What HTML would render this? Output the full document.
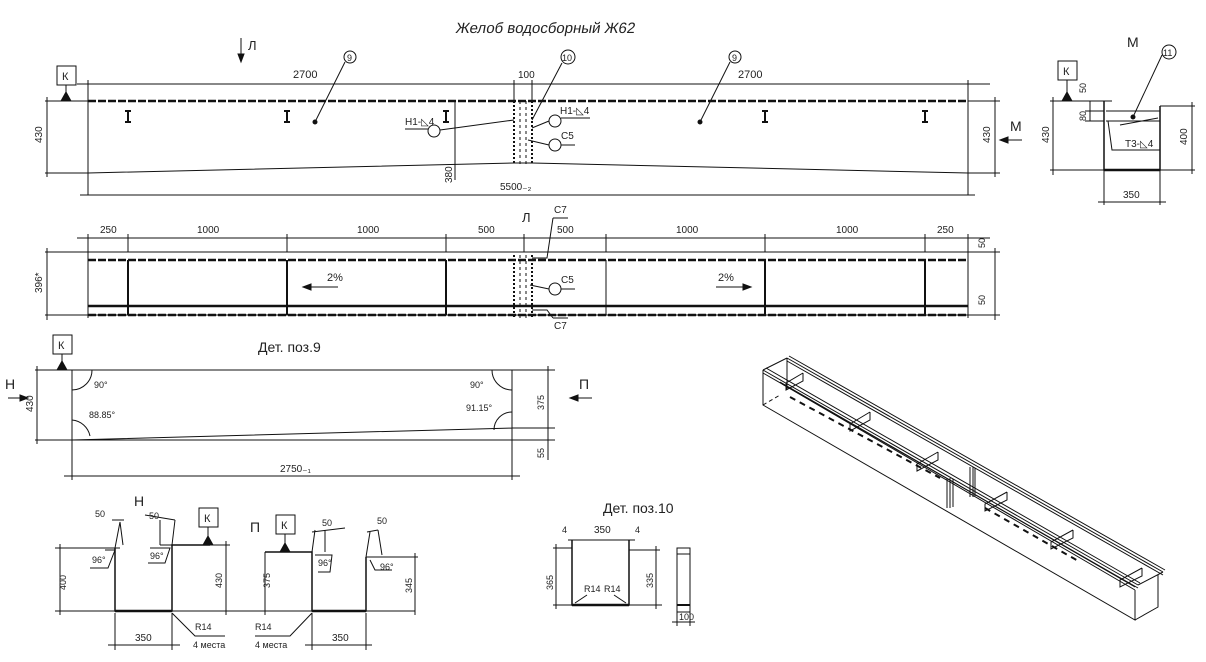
<!DOCTYPE html>
<html><head><meta charset="utf-8"><style>
body{margin:0;background:#fff}
svg text{font-family:"Liberation Sans Narrow","Liberation Sans",sans-serif;fill:#222}
</style></head><body>
<svg width="1206" height="657" viewBox="0 0 1206 657" xmlns="http://www.w3.org/2000/svg" stroke="#111" fill="none" stroke-width="1">
<text x="455" y="33" font-size="15" stroke="none" transform="skewX(-10) translate(6,0)">Желоб водосборный Ж62</text>
<!-- section mark L -->
<path d="M241 38 V60" /><path d="M238 54 L241 62 L244 54Z" fill="#111"/>
<text x="248" y="50" font-size="13" stroke="none">Л</text>
<!-- top view -->
<rect x="57" y="66" width="19" height="19"/><text x="62" y="80" font-size="11" stroke="none">К</text>
<path d="M66 85 V93"/><path d="M61 101 L66 92 L71 101Z" fill="#111"/>
<path d="M77 84 H990" />
<path d="M88 80 V195 M968 80 V195 M514 80 V101 M532 80 V101"/>
<text x="293" y="78" font-size="11" stroke="none">2700</text>
<text x="518" y="78" font-size="10" stroke="none">100</text>
<text x="738" y="78" font-size="11" stroke="none">2700</text>
<path d="M88 101 H968" stroke-width="2.5" stroke-dasharray="8,2"/>
<path d="M45 101 H88 M45 173 H88 M47 97 V177"/>
<text x="42" y="143" font-size="10" stroke="none" transform="rotate(-90 42 143)">430</text>
<path d="M88 173 L514 163 H532 L968 173"/>
<path d="M968 101 H1000 M968 173 H1000 M995 97 V177"/>
<text x="990" y="143" font-size="10" stroke="none" transform="rotate(-90 990 143)">430</text>
<path d="M455 101 V180"/><text x="452" y="183" font-size="10" stroke="none" transform="rotate(-90 452 183)">380</text>
<path d="M80 195 H975"/><text x="500" y="190" font-size="10" stroke="none">5500₋₂</text>
<path d="M514 101 V165 M532 101 V165" stroke-dasharray="2,2" stroke-width="2"/>
<path d="M520 101 V165 M526 101 V165" stroke-dasharray="3,3"/>
<g stroke-width="2"><path d="M128 111 V122 M125 111 H131 M125 122 H131 M287 111 V122 M284 111 H290 M284 122 H290 M446 111 V122 M443 111 H449 M443 122 H449 M765 111 V122 M762 111 H768 M762 122 H768 M925 111 V122 M922 111 H928 M922 122 H928"/></g>
<circle cx="350" cy="57" r="6"/><text x="347" y="61" font-size="9" stroke="none">9</text>
<path d="M345 62 L315 122"/><circle cx="315" cy="122" r="2" fill="#111"/>
<circle cx="735" cy="57" r="6"/><text x="732" y="61" font-size="9" stroke="none">9</text>
<path d="M730 62 L700 122"/><circle cx="700" cy="122" r="2" fill="#111"/>
<circle cx="568" cy="57" r="7"/><text x="562" y="61" font-size="9" stroke="none">10</text>
<path d="M562 63 L532 120"/>
<circle cx="434" cy="131" r="6"/><text x="405" y="125" font-size="10" stroke="none">Н1-◺4</text>
<path d="M405 129 H428 M440 130 L514 120"/>
<circle cx="555" cy="121" r="6"/><text x="560" y="114" font-size="10" stroke="none">Н1-◺4</text><path d="M561 118 H590 M549 121 L532 128"/>
<circle cx="555" cy="145" r="6"/><text x="561" y="139" font-size="10" stroke="none">С5</text><path d="M561 145 H575 M549 145 L528 140"/>
<text x="1010" y="131" font-size="14" stroke="none">М</text>
<path d="M1000 140 H1022"/><path d="M1000 140 L1008 137 L1008 143Z" fill="#111"/>
<!-- plan view -->
<text x="522" y="222" font-size="13" stroke="none">Л</text>
<path d="M77 238 H990 M88 234 V318 M968 234 V318 M128 234 V252 M287 234 V252 M446 234 V252 M524 234 V252 M606 234 V252 M765 234 V252 M925 234 V252"/>
<text x="100" y="233" font-size="10" stroke="none">250</text>
<text x="197" y="233" font-size="10" stroke="none">1000</text>
<text x="357" y="233" font-size="10" stroke="none">1000</text>
<text x="478" y="233" font-size="10" stroke="none">500</text>
<text x="557" y="233" font-size="10" stroke="none">500</text>
<text x="676" y="233" font-size="10" stroke="none">1000</text>
<text x="836" y="233" font-size="10" stroke="none">1000</text>
<text x="937" y="233" font-size="10" stroke="none">250</text>
<path d="M45 252 H1000 M45 315 H1000 M47 248 V320 M995 248 V320"/>
<path d="M88 260 H968 M88 315 H968" stroke-width="2.5" stroke-dasharray="8,2"/>
<path d="M88 306 H968" stroke-width="2.5"/>
<path d="M128 260 V315 M287 260 V315 M446 260 V315 M765 260 V315 M925 260 V315" stroke-width="2"/>
<path d="M606 260 V315" stroke-width="1"/>
<path d="M514 255 V318 M532 255 V318" stroke-dasharray="2,2" stroke-width="2"/>
<path d="M520 255 V318 M526 255 V318" stroke-dasharray="3,3"/>
<text x="42" y="293" font-size="10" stroke="none" transform="rotate(-90 42 293)">396*</text>
<text x="985" y="248" font-size="9" stroke="none" transform="rotate(-90 985 248)">50</text>
<text x="985" y="305" font-size="9" stroke="none" transform="rotate(-90 985 305)">50</text>
<text x="327" y="281" font-size="11" stroke="none">2%</text><path d="M305 287 H338"/><path d="M303 287 L311 284 L311 290Z" fill="#111"/>
<text x="718" y="281" font-size="11" stroke="none">2%</text><path d="M716 287 H749"/><path d="M751 287 L743 284 L743 290Z" fill="#111"/>
<text x="554" y="213" font-size="10" stroke="none">С7</text><path d="M553 218 H568 M553 218 L547 258 H532"/>
<text x="554" y="329" font-size="10" stroke="none">С7</text><path d="M553 318 H568 M553 318 L547 310 H532"/>
<circle cx="555" cy="289" r="6"/><text x="561" y="283" font-size="10" stroke="none">С5</text><path d="M561 289 H575 M549 289 L530 285"/>
<!-- section M -->
<text x="1127" y="47" font-size="14" stroke="none">М</text>
<circle cx="1169" cy="52" r="7"/><text x="1163" y="56" font-size="9" stroke="none">11</text>
<path d="M1162 55 L1133 117"/><circle cx="1133" cy="117" r="2" fill="#111"/>
<rect x="1058" y="61" width="19" height="19"/><text x="1063" y="75" font-size="11" stroke="none">К</text>
<path d="M1067 80 V93"/><path d="M1062 101 L1067 92 L1072 101Z" fill="#111"/>
<path d="M1050 101 H1105 M1050 170 H1105 M1053 97 V175"/>
<text x="1049" y="143" font-size="10" stroke="none" transform="rotate(-90 1049 143)">430</text>
<path d="M1104 101 V170 H1160 V106" stroke-width="1.5"/>
<path d="M1104 170 H1160" stroke-width="2.5"/>
<path d="M1104 101 H1112 M1160 106 H1168 M1106 111 H1160 M1106 121 H1160 M1108 121 L1112 150 H1160 M1120 125 L1158 118"/>
<path d="M1090 101 V121 M1085 111 H1104 M1085 121 H1104"/>
<text x="1086" y="93" font-size="9" stroke="none" transform="rotate(-90 1086 93)">50</text>
<text x="1086" y="121" font-size="9" stroke="none" transform="rotate(-90 1086 121)">80</text>
<text x="1125" y="147" font-size="10" stroke="none">Т3-◺4</text>
<path d="M1160 106 H1195 M1160 170 H1195 M1192 102 V174"/>
<text x="1187" y="145" font-size="10" stroke="none" transform="rotate(-90 1187 145)">400</text>
<path d="M1104 170 V205 M1160 170 V205 M1098 202 H1166"/><text x="1123" y="198" font-size="10" stroke="none">350</text>
<!-- Det 9 -->
<text x="258" y="352" font-size="14" stroke="none">Дет. поз.9</text>
<rect x="53" y="335" width="19" height="19"/><text x="58" y="349" font-size="11" stroke="none">К</text>
<path d="M62 354 V362"/><path d="M57 370 L62 361 L67 370Z" fill="#111"/>
<path d="M35 370 H555 M35 440 H555 M37 366 V444"/>
<text x="33" y="412" font-size="10" stroke="none" transform="rotate(-90 33 412)">430</text>
<path d="M72 370 V480 M512 370 V480 M64 476 H520 M72 440 L512 428"/>
<path d="M512 428 H555 M548 366 V460"/>
<text x="544" y="410" font-size="9" stroke="none" transform="rotate(-90 544 410)">375</text>
<text x="544" y="458" font-size="9" stroke="none" transform="rotate(-90 544 458)">55</text>
<text x="280" y="472" font-size="10" stroke="none">2750₋₁</text>
<path d="M72 390 A20 20 0 0 0 92 370 M72 420 A20 20 0 0 1 90 436 M492 370 A20 20 0 0 0 512 390 M494 430 A18 18 0 0 1 512 412"/>
<text x="94" y="388" font-size="9" stroke="none">90°</text><text x="89" y="418" font-size="9" stroke="none">88.85°</text>
<text x="470" y="388" font-size="9" stroke="none">90°</text><text x="466" y="411" font-size="9" stroke="none">91.15°</text>
<text x="5" y="389" font-size="14" stroke="none">Н</text><path d="M8 398 H28"/><path d="M28 398 L20 395 L20 401Z" fill="#111"/>
<text x="579" y="389" font-size="14" stroke="none">П</text><path d="M572 398 H592"/><path d="M570 398 L578 395 L578 401Z" fill="#111"/>
<!-- Section H -->
<text x="134" y="506" font-size="14" stroke="none">Н</text>
<path d="M115 548 V611 H172 V545 H210" stroke-width="1.5"/><path d="M115 611 H172" stroke-width="2.5"/>
<path d="M55 548 H120 M55 611 H305 M60 544 V615"/>
<text x="66" y="590" font-size="9" stroke="none" transform="rotate(-90 66 590)">400</text>
<rect x="199" y="508" width="19" height="19"/><text x="204" y="522" font-size="11" stroke="none">К</text>
<path d="M208 527 V537"/><path d="M203 545 L208 536 L213 545Z" fill="#111"/>
<path d="M160 545 H230 M226 541 V615"/><text x="222" y="588" font-size="9" stroke="none" transform="rotate(-90 222 588)">430</text>
<path d="M115 613 V650 M172 613 V650 M108 645 H180"/><text x="135" y="641" font-size="10" stroke="none">350</text>
<path d="M172 613 L195 636 H225"/><text x="195" y="630" font-size="9" stroke="none">R14</text><text x="193" y="648" font-size="9" stroke="none">4 места</text>
<path d="M115 548 L120 522 M112 520 H124 M120 522 L123 545 M105 550 H115 L108 568 H90"/><text x="92" y="563" font-size="9" stroke="none">96°</text>
<text x="95" y="517" font-size="9" stroke="none">50</text>
<path d="M172 545 L175 520 M145 515 L175 520 M160 520 L160 545"/><text x="149" y="519" font-size="9" stroke="none">50</text>
<path d="M150 548 H170 L165 563 H148"/><text x="150" y="559" font-size="9" stroke="none">96°</text>
<!-- Section P -->
<text x="250" y="532" font-size="14" stroke="none">П</text>
<rect x="276" y="515" width="19" height="19"/><text x="281" y="529" font-size="11" stroke="none">К</text>
<path d="M285 534 V544"/><path d="M280 552 L285 543 L290 552Z" fill="#111"/>
<path d="M265 552 H312 V611 H366 V557" stroke-width="1.5"/><path d="M312 611 H366" stroke-width="2.5"/>
<path d="M265 552 V615 M260 611 H415 M366 557 H418 M415 553 V615"/>
<text x="270" y="588" font-size="9" stroke="none" transform="rotate(-90 270 588)">375</text>
<text x="412" y="593" font-size="9" stroke="none" transform="rotate(-90 412 593)">345</text>
<path d="M312 613 V650 M366 613 V650 M305 645 H372"/><text x="332" y="641" font-size="10" stroke="none">350</text>
<path d="M312 613 L290 636 H255"/><text x="255" y="630" font-size="9" stroke="none">R14</text><text x="255" y="648" font-size="9" stroke="none">4 места</text>
<path d="M312 552 L315 530 M312 532 L345 528 M325 530 V552"/><text x="322" y="526" font-size="9" stroke="none">50</text>
<path d="M315 555 H332 L330 572 H318"/><text x="318" y="566" font-size="9" stroke="none">96°</text>
<path d="M366 557 L370 532 M367 532 L378 530 M378 530 L382 555"/><text x="377" y="524" font-size="9" stroke="none">50</text>
<path d="M370 560 L375 570 H392"/><text x="380" y="570" font-size="9" stroke="none">96°</text>
<!-- Det 10 -->
<text x="603" y="513" font-size="14" stroke="none">Дет. поз.10</text>
<path d="M572 540 V605 H629 V540" stroke-width="1.5"/><path d="M572 605 H629" stroke-width="2.5"/>
<path d="M568 540 H635 M553 548 H572 M629 550 H660 M553 605 H662 M556 544 V609 M656 546 V609"/>
<text x="562" y="533" font-size="9" stroke="none">4</text><text x="594" y="533" font-size="10" stroke="none">350</text><text x="635" y="533" font-size="9" stroke="none">4</text>
<text x="553" y="590" font-size="9" stroke="none" transform="rotate(-90 553 590)">365</text>
<text x="653" y="588" font-size="9" stroke="none" transform="rotate(-90 653 588)">335</text>
<text x="584" y="592" font-size="9" stroke="none">R14</text><text x="604" y="592" font-size="9" stroke="none">R14</text>
<path d="M575 603 L587 595 M626 603 L614 595"/>
<rect x="677" y="548" width="13" height="64"/><path d="M677 554 H690"/><path d="M677 605 H690" stroke-width="2"/>
<path d="M677 612 V626 M690 612 V626 M672 622 H695"/><text x="679" y="620" font-size="9" stroke="none">100</text>
<!-- isometric -->
<g stroke-width="1">
<path d="M763 370 L1138 585 M766 368 L1140 583 M763 373 L1138 588"/>
<path d="M787 358 L1163 572 M787 361 L1163 575 M789 356 L1165 570"/>
<path d="M763 370 V405 L1135 620 V590 M1135 620 L1158 607 V575 M787 358 V390 M763 370 L787 358 M1138 585 L1163 572"/>
<path d="M763 405 L780 395" stroke-dasharray="4,3"/>
<path d="M780 382 L1135 587 M782 384 L1135 590"/>
<path d="M803 373 V381 L786 390 V383 L803 373 M870 412 V420 L850 431 V424 L870 412 M938 452 V460 L917 471 V464 L938 452 M1007 492 V500 L985 511 V504 L1007 492 M1073 530 V538 L1051 549 V542 L1073 530 M1142 568 V576 L1120 587 V580 L1142 568"/>
<path d="M947 478 V508 M950 478 V508 M953 479 V507 M970 467 V497 M973 467 V497 M975 468 V496"/>
<path d="M790 397 L940 478" stroke-dasharray="6,5" stroke-width="2"/>
<path d="M985 508 L1080 562" stroke-dasharray="6,5" stroke-width="2"/>
</g>
</svg>
</body></html>
